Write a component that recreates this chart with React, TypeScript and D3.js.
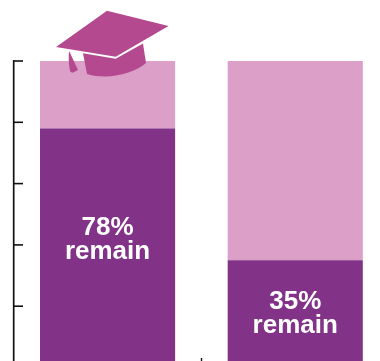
import React from "react";
import * as d3 from "d3";

const categories = ["With degree", "Without degree"];
const remainPercent = [78, 35];
const axisTicks = [0, 20, 40, 60, 80, 100];

const WIDTH = 380;
const HEIGHT = 361;
const DARK = "#823388";
const LIGHT = "#dc9fc8";
const CAP = "#b5498f";

const y = d3.scaleLinear().domain([0, 100]).range([367.5, 61]);
const x = d3.scaleBand<string>().domain(categories).range([40, 362.8]).paddingInner(0.28);

const capBoard = "M56 47 L107 10.7 L168.5 26 L115.7 56.7 Z";
const capBody = "M83 53.3 L115.7 58.7 L143 43.5 L146 63 C136 72 110 81 87 74 Z";
const capTassel = "M69 50.7 L78 70 L72.7 72.7 C70.5 72.5 70 71 69.8 70 C68.5 63 68.5 56 69 50.7 Z";

export default function App() {
  return (
    <svg
      width={WIDTH}
      height={HEIGHT}
      viewBox={`0 0 ${WIDTH} ${HEIGHT}`}
      style={{ position: "fixed", left: 0, top: 0, display: "block" }}
    >
      {categories.map((c, i) => {
        const bx = x(c)!;
        const bw = x.bandwidth();
        const v = remainPercent[i];
        const cx = bx + bw / 2;
        const labelY = i === 0 ? 235 : 309;
        return (
          <g key={c}>
            <rect x={bx} y={y(100)} width={bw} height={y(v) - y(100)} fill={LIGHT} />
            <rect x={bx} y={y(v)} width={bw} height={y(0) - y(v)} fill={DARK} />
            <text
              textAnchor="middle"
              fill="#fff"
              fontFamily="'Liberation Sans', Arial, sans-serif"
              fontWeight={700}
              fontSize={26}
            >
              <tspan x={cx} y={labelY}>{v}%</tspan>
              <tspan x={cx} y={labelY + 24}>remain</tspan>
            </text>
          </g>
        );
      })}
      <line x1={13.7} x2={13.7} y1={y(100) - 0.8} y2={HEIGHT} stroke="#111" strokeWidth={1.7} />
      {axisTicks.map((t) => (
        <line key={t} x1={13} x2={23} y1={y(t)} y2={y(t)} stroke="#111" strokeWidth={1.6} />
      ))}
      <line x1={201.5} x2={201.5} y1={358} y2={HEIGHT} stroke="#111" strokeWidth={1.4} />
      <path d={capBody} fill={CAP} />
      <path d={capTassel} fill={CAP} />
      <path d={capBoard} fill={CAP} />
    </svg>
  );
}
